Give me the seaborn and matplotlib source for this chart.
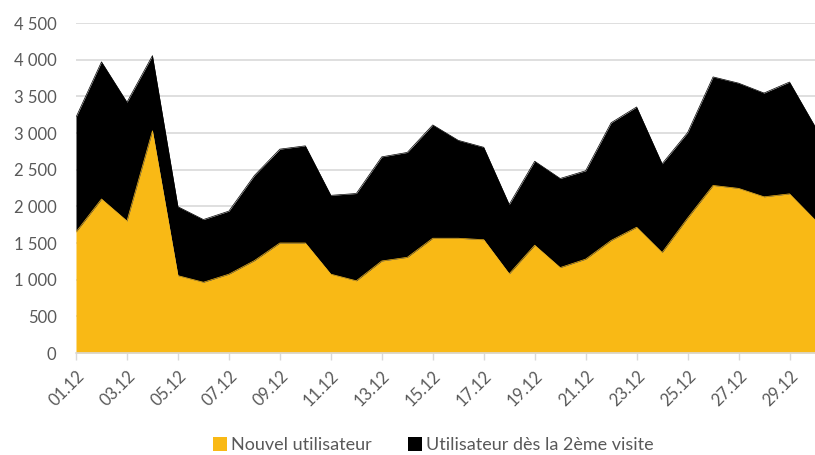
import matplotlib
matplotlib.use("Agg")
import matplotlib.pyplot as plt
import seaborn as sns
import pandas as pd
from matplotlib.patches import Patch
from matplotlib.ticker import FuncFormatter

days = [f"{d:02d}.12" for d in range(1, 31)]
new_users = [1650, 2100, 1800, 3030, 1055, 965, 1075, 1260, 1500, 1500,
             1075, 985, 1255, 1305, 1565, 1565, 1545, 1080, 1470, 1165,
             1280, 1535, 1715, 1370, 1840, 2285, 2245, 2130, 2170, 1815]
returning_users = [1565, 1870, 1620, 1025, 940, 855, 860, 1160, 1280, 1325,
                   1075, 1190, 1420, 1430, 1545, 1335, 1260, 945, 1145, 1215,
                   1205, 1605, 1640, 1210, 1165, 1480, 1435, 1415, 1525, 1275]
series_names = ["Nouvel utilisateur", "Utilisateur dès la 2ème visite"]
colors = ["#F9B915", "#000000"]

df = pd.DataFrame({"idx": range(len(days)), "day": days,
                   "new": new_users, "ret": returning_users})
df["total"] = df["new"] + df["ret"]

sns.set_theme(style="white")
plt.rcParams["font.family"] = ["Lato", "DejaVu Sans"]
text_color = "#595959"

fig = plt.figure(figsize=(8.15, 4.55), dpi=100)
ax = fig.add_axes([76 / 815, 102 / 455, 739 / 815, 330 / 455])

ax.fill_between(df["idx"], 0, df["new"], color=colors[0], lw=0, zorder=2)
ax.fill_between(df["idx"], df["new"], df["total"], color=colors[1], lw=0, zorder=2)
sns.lineplot(data=df, x="idx", y="total", ax=ax, color=colors[1], lw=0.5, zorder=3)
sns.lineplot(data=df, x="idx", y="new", ax=ax, color=colors[0], lw=0.5, zorder=3)

ax.set_xlim(0, len(days) - 1)
ax.set_ylim(0, 4500)
ax.set_yticks(range(0, 4501, 500))
ax.yaxis.set_major_formatter(FuncFormatter(lambda v, p: f"{int(v):,}".replace(",", " ")))
ax.grid(axis="y", color="#d9d9d9", lw=1.2, zorder=0)
ax.grid(axis="x", visible=False)
ax.set_axisbelow(True)

tick_pos = list(range(0, len(days), 2))
ax.set_xticks(tick_pos)
ax.set_xticklabels([days[i] for i in tick_pos], rotation=45, ha="right",
                   rotation_mode="anchor", color=text_color, fontsize=12)
ax.tick_params(axis="x", which="major", bottom=True, length=5, width=1,
               color="#d9d9d9", pad=6)
ax.tick_params(axis="y", left=False, pad=8, labelcolor=text_color, labelsize=12)
for lbl in ax.get_yticklabels():
    lbl.set_color(text_color)

for s in ["top", "right", "left"]:
    ax.spines[s].set_visible(False)
ax.spines["bottom"].set_color("#d9d9d9")
ax.spines["bottom"].set_linewidth(1.2)
ax.set_xlabel("")
ax.set_ylabel("")

handles = [Patch(facecolor=c, edgecolor="none") for c in colors]
leg = fig.legend(handles, series_names, loc="center",
                 bbox_to_anchor=(433 / 815, 1 - 445 / 455), ncol=2, frameon=False,
                 fontsize=13, handlelength=0.8, handleheight=0.8,
                 handletextpad=0.2, columnspacing=2.0)
for t in leg.get_texts():
    t.set_color(text_color)

fig.savefig("out.png", dpi=100)
